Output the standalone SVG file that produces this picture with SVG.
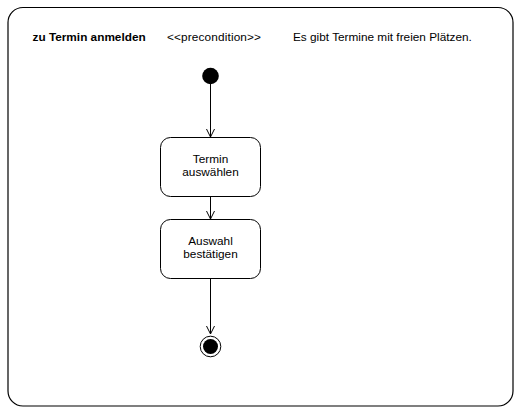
<svg xmlns="http://www.w3.org/2000/svg" width="527" height="418" viewBox="0 0 527 418">
<defs>
<style>
.t{font-family:"Liberation Sans",Arial,sans-serif;font-size:11.8px;fill:#000}
.b{font-weight:bold}
.box{fill:#fff;stroke:#000;stroke-width:1}
.edge{stroke:#000;stroke-width:1;fill:none}
</style>
<marker id="arr" markerWidth="10" markerHeight="10" refX="8" refY="4" orient="auto" markerUnits="userSpaceOnUse">
<path d="M0,0 L8,4 L0,8" fill="none" stroke="#000" stroke-width="1"/>
</marker>
</defs>
<rect width="527" height="418" fill="#fff"/>
<g id="frame">
<rect x="8" y="7.5" width="505" height="398.5" rx="15" ry="15" fill="#fff" stroke="#000" stroke-width="1.2"/>
<text class="t b" x="32.5" y="40.5">zu Termin anmelden</text>
<text class="t" x="167" y="40.5" textLength="94" lengthAdjust="spacing">&lt;&lt;precondition&gt;&gt;</text>
<text class="t" x="293" y="40.5">Es gibt Termine mit freien Plätzen.</text>
</g>
<g id="connectors">
<line class="edge" x1="210.5" y1="84" x2="210.5" y2="137" marker-end="url(#arr)"/>
<line class="edge" x1="210.5" y1="196" x2="210.5" y2="219" marker-end="url(#arr)"/>
<line class="edge" x1="210.5" y1="279" x2="210.5" y2="334" marker-end="url(#arr)"/>
</g>
<g id="start">
<circle cx="210.5" cy="76" r="8.3" fill="#000"/>
</g>
<g id="n1">
<rect class="box" x="160.5" y="137.5" width="100" height="59" rx="10" ry="10"/>
<text class="t" x="210.5" y="163" text-anchor="middle">Termin</text>
<text class="t" x="210.5" y="176" text-anchor="middle">auswählen</text>
</g>
<g id="n2">
<rect class="box" x="160.5" y="219.5" width="100" height="59" rx="10" ry="10"/>
<text class="t" x="210.5" y="245" text-anchor="middle">Auswahl</text>
<text class="t" x="210.5" y="258" text-anchor="middle">bestätigen</text>
</g>
<g id="end">
<circle cx="210.5" cy="346.5" r="10.3" fill="#fff" stroke="#000" stroke-width="1"/>
<circle cx="210.5" cy="346.5" r="7.5" fill="#000"/>
</g>
</svg>
